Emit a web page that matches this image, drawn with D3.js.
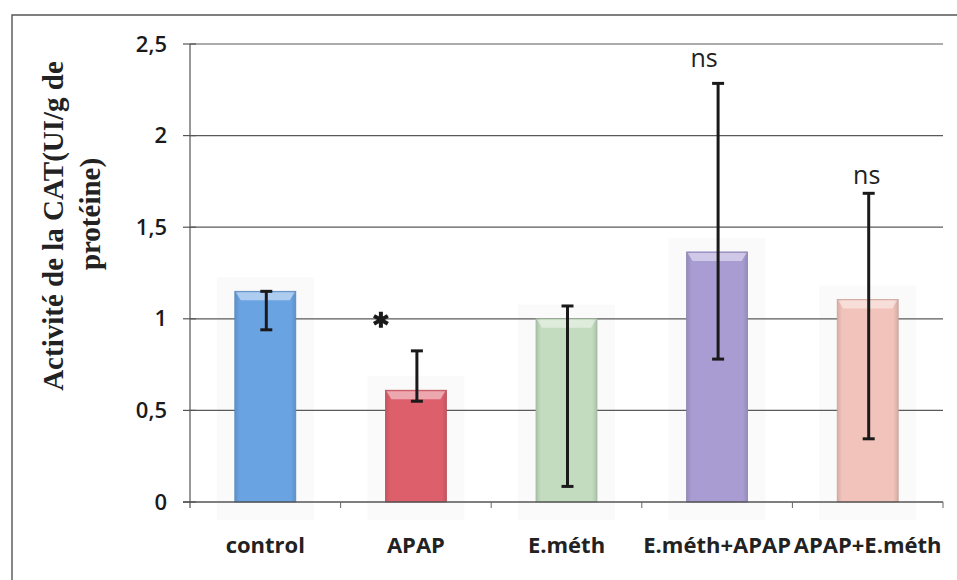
<!DOCTYPE html>
<html>
<head>
<meta charset="utf-8">
<script src="https://cdn.jsdelivr.net/npm/d3@7"></script>
<style>
  html, body { margin: 0; padding: 0; background: #fff; }
  svg { display: block; }
</style>
</head>
<body>
<svg id="chart" width="957" height="580"></svg>
<script>
// Catalase activity per group (UI/g of protein)
const categories = ["control", "APAP", "E.méth", "E.méth+APAP", "APAP+E.méth"];
const means      = [1.15, 0.61, 1.0, 1.365, 1.105];
const errLow     = [0.94, 0.55, 0.085, 0.78, 0.345];
const errHigh    = [1.15, 0.825, 1.07, 2.285, 1.685];
const signif     = ["", "*", "", "ns", "ns"];
const yTicks     = [0, 0.5, 1, 1.5, 2, 2.5];
const barColors  = ["#6aa3e2", "#de5f6c", "#c3dcbf", "#a99cd3", "#f1c3ba"];
const yTitle     = ["Activité de la CAT(UI/g de", "protéine)"];

const svg = d3.select("#chart");
const plot = { left: 190, right: 943, top: 44, bottom: 502 };

const x = d3.scaleBand()
  .domain(categories)
  .range([plot.left, plot.right])
  .paddingInner(0.595)
  .paddingOuter(0.2975);

const y = d3.scaleLinear().domain([0, 2.5]).range([plot.bottom, plot.top]);

const fmt = d => d3.format("")(d).replace(".", ",");

// outer frame (left and top edges)
svg.append("path")
  .attr("d", "M12,580 L12,15 L957,15")
  .attr("fill", "none")
  .attr("stroke", "#555")
  .attr("stroke-width", 1.4);

// soft halo behind each bar
svg.append("g").selectAll("rect")
  .data(categories)
  .join("rect")
  .attr("x", d => x(d) - 18)
  .attr("y", (d, i) => y(means[i]) - 14)
  .attr("width", x.bandwidth() + 36)
  .attr("height", (d, i) => y(0) - y(means[i]) + 32)
  .attr("fill", "#fafafa");

// horizontal gridlines
svg.append("g")
  .selectAll("line")
  .data(yTicks.filter(t => t > 0))
  .join("line")
  .attr("x1", plot.left)
  .attr("x2", plot.right)
  .attr("y1", d => y(d))
  .attr("y2", d => y(d))
  .attr("stroke", "#5a5a5a")
  .attr("stroke-width", 1.2);

// gradients for the bars
const defs = svg.append("defs");
barColors.forEach((c, i) => {
  const g = defs.append("linearGradient")
    .attr("id", "barGrad" + i)
    .attr("x1", "0").attr("x2", "1").attr("y1", "0").attr("y2", "0");
  const base = d3.color(c);
  g.append("stop").attr("offset", "0%").attr("stop-color", base.darker(0.35));
  g.append("stop").attr("offset", "8%").attr("stop-color", base);
  g.append("stop").attr("offset", "92%").attr("stop-color", base);
  g.append("stop").attr("offset", "100%").attr("stop-color", base.darker(0.35));
});

// bars
const bars = svg.append("g");
bars.selectAll("rect.bar")
  .data(categories)
  .join("rect")
  .attr("class", "bar")
  .attr("x", d => x(d))
  .attr("y", (d, i) => y(means[i]))
  .attr("width", x.bandwidth())
  .attr("height", (d, i) => y(0) - y(means[i]))
  .attr("fill", (d, i) => `url(#barGrad${i})`)
  .attr("stroke", (d, i) => d3.color(barColors[i]).darker(0.5))
  .attr("stroke-width", 0.8);

// bevelled highlight along the top of each bar
bars.selectAll("path.bevel")
  .data(categories)
  .join("path")
  .attr("class", "bevel")
  .attr("d", (d, i) => {
    const x0 = x(d), x1 = x(d) + x.bandwidth(), t = y(means[i]);
    return `M${x0 + 1},${t + 1} L${x1 - 1},${t + 1} L${x1 - 6},${t + 9} L${x0 + 6},${t + 9} Z`;
  })
  .attr("fill", "#ffffff")
  .attr("fill-opacity", 0.45);

// y axis line with crossing ticks
svg.append("line")
  .attr("x1", plot.left).attr("x2", plot.left)
  .attr("y1", plot.top).attr("y2", plot.bottom + 6)
  .attr("stroke", "#555").attr("stroke-width", 1.2);

const yAxis = d3.axisLeft(y).tickValues(yTicks).tickFormat(fmt).tickSize(0).tickPadding(23);
const gy = svg.append("g").attr("transform", `translate(${plot.left},0)`).call(yAxis);
gy.select(".domain").remove();
gy.selectAll("text")
  .attr("font-family", "'Open Sans', sans-serif")
  .attr("font-weight", 600)
  .attr("font-size", 22)
  .attr("fill", "#1a1a1a");
svg.append("g").selectAll("line")
  .data(yTicks)
  .join("line")
  .attr("x1", plot.left - 7).attr("x2", plot.left + 6)
  .attr("y1", d => y(d)).attr("y2", d => y(d))
  .attr("stroke", "#555").attr("stroke-width", 1.2);

// x axis baseline and category ticks
svg.append("line")
  .attr("x1", plot.left - 7).attr("x2", plot.right)
  .attr("y1", plot.bottom).attr("y2", plot.bottom)
  .attr("stroke", "#555").attr("stroke-width", 1.4);

const boundaries = categories.map(c => x(c) - (x.step() - x.bandwidth()) / 2).concat([plot.right]);
svg.append("g").selectAll("line")
  .data(boundaries.slice(1))
  .join("line")
  .attr("x1", d => d).attr("x2", d => d)
  .attr("y1", plot.bottom).attr("y2", plot.bottom + 6)
  .attr("stroke", "#666").attr("stroke-width", 1);

const xAxis = d3.axisBottom(x).tickSize(0).tickPadding(35);
const gx = svg.append("g").attr("transform", `translate(0,${plot.bottom})`).call(xAxis);
gx.select(".domain").remove();
gx.selectAll("text")
  .attr("font-family", "'Open Sans', sans-serif")
  .attr("font-weight", "bold")
  .attr("font-size", 22)
  .attr("fill", "#222");

// error bars
const eb = svg.append("g").attr("stroke", "#1a1a1a").attr("stroke-width", 3);
categories.forEach((c, i) => {
  const cx = x(c) + x.bandwidth() / 2 + 1;
  eb.append("line").attr("x1", cx).attr("x2", cx).attr("y1", y(errLow[i])).attr("y2", y(errHigh[i]));
  eb.append("line").attr("x1", cx - 6).attr("x2", cx + 6).attr("y1", y(errLow[i])).attr("y2", y(errLow[i]));
  eb.append("line").attr("x1", cx - 6).attr("x2", cx + 6).attr("y1", y(errHigh[i])).attr("y2", y(errHigh[i]));
});

// significance marks
const markOffset = [[0, 0], [-35, -31], [0, 0], [-13, -16], [-1, -9]];
categories.forEach((c, i) => {
  if (!signif[i]) return;
  const cx = x(c) + x.bandwidth() / 2 + markOffset[i][0];
  const cy = y(errHigh[i]) + markOffset[i][1];
  if (signif[i] === "*") {
    svg.append("path")
      .attr("d", d3.symbol(d3.symbolAsterisk, 180)())
      .attr("transform", `translate(${cx},${cy})`)
      .attr("stroke", "#1a1a1a")
      .attr("stroke-width", 4)
      .attr("fill", "none");
  } else {
    svg.append("text")
      .attr("x", cx).attr("y", cy)
      .attr("text-anchor", "middle")
      .attr("font-family", "'Open Sans', sans-serif")
      .attr("font-size", 25)
      .attr("fill", "#222")
      .text(signif[i]);
  }
});

// y axis title
const titleX = [53, 90], titleY = [226, 214];
yTitle.forEach((t, i) => {
  svg.append("text")
    .attr("transform", `translate(${titleX[i]},${titleY[i]}) rotate(-90)`)
    .attr("text-anchor", "middle")
    .attr("dominant-baseline", "central")
    .attr("font-family", "'Liberation Serif', 'Times New Roman', serif")
    .attr("font-weight", "bold")
    .attr("font-size", 29)
    .attr("fill", "#222")
    .text(t);
});
</script>
</body>
</html>
